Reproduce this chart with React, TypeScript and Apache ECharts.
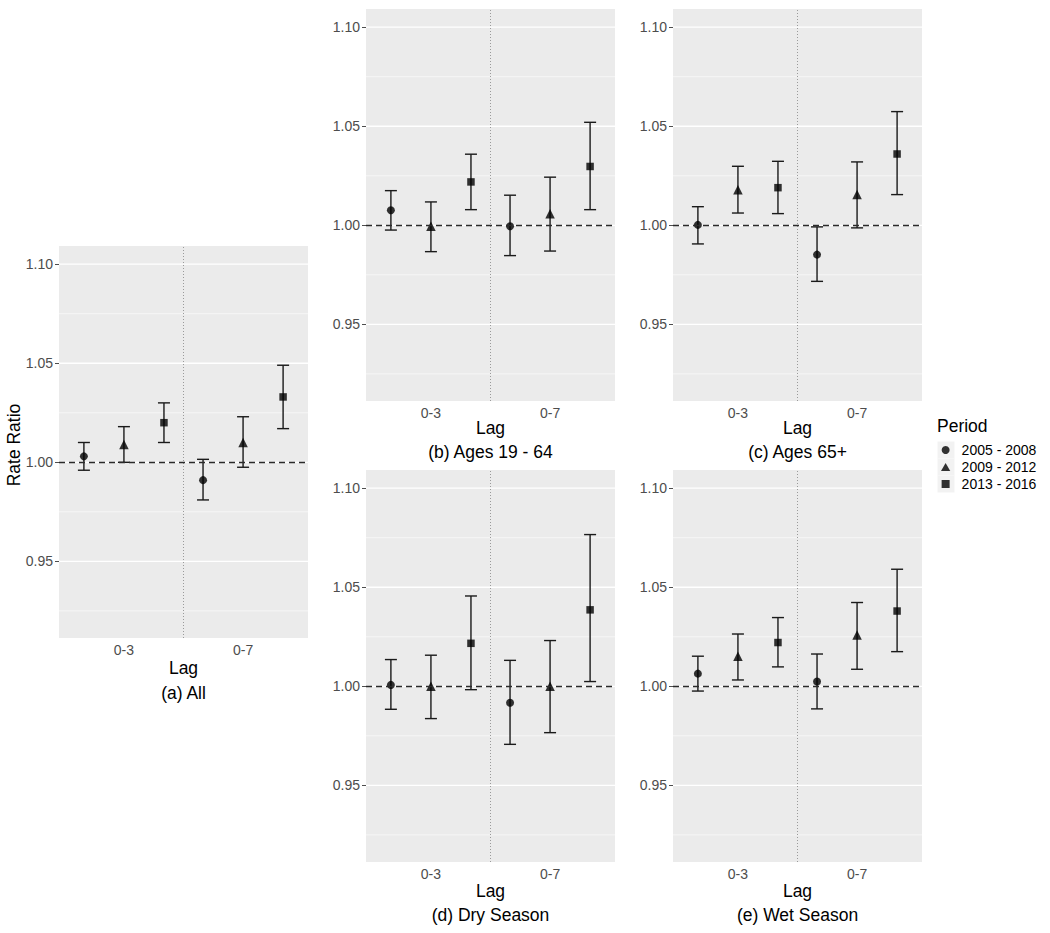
import React, { useEffect, useRef } from "react";
import * as echarts from "echarts";

// ---- data ----
const lagLabels = ["0-3", "0-7"];
const periods = ["2005 - 2008", "2009 - 2012", "2013 - 2016"];
const periodSymbols = ["circle", "triangle", "rect"];
const legendIcons = ["circle", "path://M5,0L10,8.66L0,8.66Z", "path://M0,0L10,0L10,10L0,10Z"];
const panelTitles = ["(a) All", "(b) Ages 19 - 64", "(c) Ages 65+", "(d) Dry Season", "(e) Wet Season"];
const yTickValues = [0.95, 1.0, 1.05, 1.1];
const yMinorValues = [0.925, 0.975, 1.025, 1.075];

// rows = periods, columns = lags (0-3, 0-7)
const allEst = [[1.003, 0.991], [1.009, 1.010], [1.020, 1.033]];
const allLow = [[0.996, 0.981], [1.000, 0.9975], [1.010, 1.017]];
const allHigh = [[1.010, 1.0015], [1.018, 1.023], [1.030, 1.049]];

const youngEst = [[1.0076, 0.9995], [0.9995, 1.0058], [1.0219, 1.0297]];
const youngLow = [[0.9976, 0.9847], [0.9867, 0.9870], [1.0079, 1.0079]];
const youngHigh = [[1.0175, 1.0152], [1.0118, 1.0243], [1.0359, 1.052]];

const oldEst = [[1.0002, 0.9852], [1.018, 1.0155], [1.019, 1.036]];
const oldLow = [[0.9906, 0.9717], [1.0062, 0.9987], [1.0059, 1.0155]];
const oldHigh = [[1.0094, 0.9992], [1.0298, 1.032], [1.0323, 1.0574]];

const dryEst = [[1.0007, 0.9917], [1.0, 1.0], [1.0217, 1.0386]];
const dryLow = [[0.9884, 0.9707], [0.9837, 0.9766], [0.9983, 1.0024]];
const dryHigh = [[1.0135, 1.0131], [1.0157, 1.0231], [1.0456, 1.0766]];

const wetEst = [[1.0064, 1.0024], [1.0152, 1.0259], [1.0221, 1.038]];
const wetLow = [[0.9976, 0.9886], [1.0032, 1.0086], [1.0098, 1.0175]];
const wetHigh = [[1.0152, 1.0163], [1.0264, 1.0423], [1.0347, 1.0591]];

const panelData = [
  { est: allEst, low: allLow, high: allHigh },
  { est: youngEst, low: youngLow, high: youngHigh },
  { est: oldEst, low: oldLow, high: oldHigh },
  { est: dryEst, low: dryLow, high: dryHigh },
  { est: wetEst, low: wetLow, high: wetHigh },
];

// ---- layout ----
const layout = [
  { left: 59, top: 246, lagY: 668, titleY: 693 },
  { left: 366, top: 9, lagY: 428, titleY: 452 },
  { left: 673, top: 9, lagY: 428, titleY: 452 },
  { left: 366, top: 470, lagY: 891, titleY: 915 },
  { left: 673, top: 470, lagY: 891, titleY: 915 },
];
const PW = 249;
const PH = 392;
const X_MIN = 0.455;
const X_MAX = 2.545;
const Y_MIN = 0.9113;
const Y_MAX = 1.1092;
const DODGE = 0.336;
const FONT = "'Liberation Sans', Arial, Helvetica, sans-serif";

export default function App() {
  const ref = useRef<HTMLDivElement>(null);

  useEffect(() => {
    if (!ref.current) return;
    const chart = echarts.init(ref.current, null, { renderer: "svg" });

    const grids: any[] = [];
    const xAxes: any[] = [];
    const yAxes: any[] = [];
    const series: any[] = [];
    const graphics: any[] = [];

    layout.forEach((L, i) => {
      grids.push({
        left: L.left,
        top: L.top,
        width: PW,
        height: PH,
        show: true,
        backgroundColor: "#EBEBEB",
        borderWidth: 0,
      });
      xAxes.push({
        type: "value",
        gridIndex: i,
        min: X_MIN,
        max: X_MAX,
        axisLine: { show: false },
        axisTick: { show: false },
        splitLine: { show: false },
        axisLabel: {
          customValues: [1, 2],
          formatter: (v: number) => lagLabels[Math.round(v) - 1] ?? "",
          color: "#4D4D4D",
          fontSize: 14,
          fontFamily: FONT,
          margin: 5,
        },
      });
      yAxes.push({
        type: "value",
        gridIndex: i,
        min: Y_MIN,
        max: Y_MAX,
        axisLine: { show: false },
        axisTick: { show: true, length: 4, customValues: yTickValues, lineStyle: { color: "#4D4D4D", width: 1 } },
        splitLine: { show: false },
        axisLabel: {
          customValues: yTickValues,
          formatter: (v: number) => v.toFixed(2),
          color: "#4D4D4D",
          fontSize: 14,
          fontFamily: FONT,
          margin: 6,
        },
      });

      // grid lines (drawn through the y scale)
      const gl = yTickValues.map((v) => [1.5, v, 1]).concat(yMinorValues.map((v) => [1.5, v, 0]));
      series.push({
        type: "custom",
        xAxisIndex: i,
        yAxisIndex: i,
        z: 1,
        silent: true,
        data: gl,
        renderItem: (params: any, api: any) => {
          const cs = params.coordSys;
          const y = api.coord([1.5, api.value(1)])[1];
          return {
            type: "line",
            shape: { x1: cs.x, y1: y, x2: cs.x + cs.width, y2: y },
            style: { stroke: "#FFFFFF", lineWidth: api.value(2) ? 1.3 : 0.6 },
          };
        },
      });

      const d = panelData[i];
      // error bars
      const ebData: number[][] = [];
      d.est.forEach((row, k) => {
        row.forEach((_, j) => {
          ebData.push([j + 1 + (k - 1) * DODGE, d.low[k][j], d.high[k][j]]);
        });
      });
      series.push({
        type: "custom",
        xAxisIndex: i,
        yAxisIndex: i,
        z: 3,
        silent: true,
        data: ebData,
        renderItem: (params: any, api: any) => {
          const x = api.value(0);
          const a = api.coord([x, api.value(1)]);
          const b = api.coord([x, api.value(2)]);
          const hw = 6;
          const st = { stroke: "#1A1A1A", lineWidth: 1.4 };
          return {
            type: "group",
            children: [
              { type: "line", shape: { x1: a[0], y1: a[1], x2: b[0], y2: b[1] }, style: st },
              { type: "line", shape: { x1: a[0] - hw, y1: a[1], x2: a[0] + hw, y2: a[1] }, style: st },
              { type: "line", shape: { x1: b[0] - hw, y1: b[1], x2: b[0] + hw, y2: b[1] }, style: st },
            ],
          };
        },
        markLine: {
          silent: true,
          symbol: ["none", "none"],
          label: { show: false },
          data: [
            { xAxis: 1.5, lineStyle: { type: [1, 2], color: "#9A9A9A", width: 1 } },
            { yAxis: 1.0, lineStyle: { type: [6, 4], color: "#2A2A2A", width: 1.3 } },
          ],
        },
      });

      // points
      d.est.forEach((row, k) => {
        series.push({
          type: "scatter",
          name: periods[k],
          xAxisIndex: i,
          yAxisIndex: i,
          z: 4,
          symbol: periodSymbols[k],
          symbolSize: k === 1 ? 9.5 : k === 0 ? 8 : 7.5,
          itemStyle: { color: "#000000" },
          data: row.map((v, j) => [j + 1 + (k - 1) * DODGE, v]),
        });
      });

      const cx = L.left + PW / 2;
      graphics.push({
        type: "text",
        x: cx,
        y: L.lagY,
        style: { text: "Lag", fontSize: 17.5, fontFamily: FONT, fill: "#000", textAlign: "center", textVerticalAlign: "middle" },
      });
      graphics.push({
        type: "text",
        x: cx,
        y: L.titleY,
        style: { text: panelTitles[i], fontSize: 17.5, fontFamily: FONT, fill: "#000", textAlign: "center", textVerticalAlign: "middle" },
      });
    });

    graphics.push({
      type: "text",
      x: 14,
      y: 445,
      rotation: Math.PI / 2,
      style: { text: "Rate Ratio", fontSize: 17.5, fontFamily: FONT, fill: "#000", textAlign: "center", textVerticalAlign: "middle" },
    });
    graphics.push({
      type: "text",
      x: 937,
      y: 426,
      style: { text: "Period", fontSize: 17.5, fontFamily: FONT, fill: "#000", textAlign: "left", textVerticalAlign: "middle" },
    });
    periods.forEach((_, k) => {
      graphics.push({
        type: "rect",
        z: 0,
        shape: { x: 937.5, y: 441.5 + 17 * k, width: 17, height: 17 },
        style: { fill: "#F2F2F2" },
      });
    });

    chart.setOption({
      animation: false,
      backgroundColor: "#FFFFFF",
      textStyle: { fontFamily: FONT },
      grid: grids,
      xAxis: xAxes,
      yAxis: yAxes,
      series,
      graphic: graphics,
      legend: {
        orient: "vertical",
        left: 941,
        top: 441.5,
        padding: 0,
        itemGap: 0,
        itemWidth: 22,
        itemHeight: 8,
        symbolKeepAspect: true,
        selectedMode: false,
        data: periods.map((p, k) => ({ name: p, icon: legendIcons[k] })),
        itemStyle: { color: "#000" },
        textStyle: { fontSize: 14, color: "#000", fontFamily: FONT, lineHeight: 17 },
      },
    });

    return () => chart.dispose();
  }, []);

  return (
    <div
      ref={ref}
      style={{ position: "fixed", left: 0, top: 0, width: 1050, height: 933, background: "#fff" }}
    />
  );
}
